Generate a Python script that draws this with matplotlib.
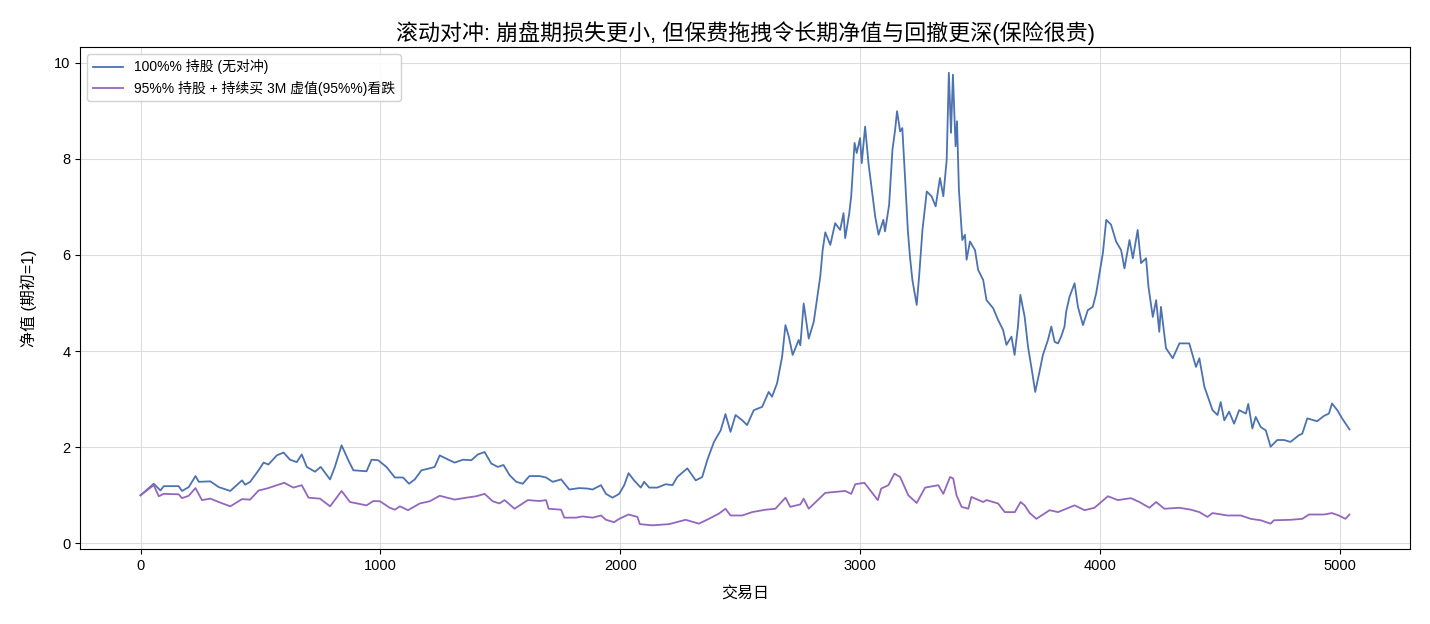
import matplotlib
matplotlib.use("Agg")
import matplotlib.pyplot as plt

plt.rcParams['font.family'] = ['Liberation Sans', 'Noto Sans CJK SC', 'DejaVu Sans']
plt.rcParams['axes.unicode_minus'] = False

# 100% 持股 (无对冲): 交易日, 净值
days_full = [0, 55, 83, 97, 159, 173, 201, 229, 243, 291, 326, 374, 423, 436, 457, 492, 513, 533,
             568, 596, 623, 651, 672, 693, 727, 751, 790, 810, 838, 866, 887, 942, 963, 990, 1025,
             1060, 1094, 1119, 1143, 1171, 1205, 1226, 1247, 1275, 1309, 1344, 1379, 1406, 1434,
             1462, 1489, 1513, 1538, 1566, 1593, 1621, 1663, 1690, 1718, 1753, 1787, 1829, 1863,
             1884, 1919, 1940, 1967, 1995, 2016, 2034, 2057, 2085, 2099, 2120, 2154, 2189, 2217,
             2237, 2279, 2314, 2341, 2362, 2390, 2418, 2438, 2459, 2480, 2508, 2528, 2556, 2591,
             2618, 2632, 2653, 2674, 2688, 2702, 2718, 2743, 2750, 2764, 2785, 2806, 2823, 2833,
             2843, 2854, 2875, 2895, 2916, 2930, 2937, 2954, 2962, 2976, 2985, 2999, 3006, 3020,
             3034, 3048, 3062, 3076, 3096, 3103, 3120, 3134, 3145, 3153, 3166, 3175, 3187, 3198,
             3207, 3217, 3235, 3245, 3259, 3277, 3297, 3314, 3332, 3346, 3360, 3369, 3378, 3386,
             3397, 3403, 3411, 3425, 3436, 3443, 3457, 3478, 3491, 3512, 3526, 3554, 3574, 3595,
             3609, 3630, 3643, 3657, 3667, 3685, 3699, 3716, 3729, 3748, 3761, 3782, 3796, 3810,
             3824, 3837, 3851, 3858, 3872, 3893, 3907, 3928, 3948, 3969, 3983, 3997, 4011, 4025,
             4045, 4066, 4087, 4101, 4122, 4136, 4156, 4170, 4191, 4201, 4219, 4233, 4246, 4253,
             4274, 4302, 4330, 4371, 4399, 4413, 4434, 4468, 4489, 4502, 4517, 4537, 4558, 4579,
             4607, 4617, 4634, 4648, 4669, 4690, 4710, 4738, 4766, 4793, 4828, 4842, 4863, 4904,
             4932, 4953, 4966, 4988, 5008, 5039]
nav_full = [1.00, 1.24, 1.10, 1.19, 1.19, 1.09, 1.17, 1.40, 1.28, 1.29, 1.17, 1.09, 1.31, 1.22,
            1.28, 1.52, 1.68, 1.64, 1.83, 1.89, 1.74, 1.69, 1.85, 1.59, 1.49, 1.59, 1.33, 1.59,
            2.04, 1.73, 1.52, 1.50, 1.74, 1.73, 1.59, 1.37, 1.37, 1.24, 1.33, 1.52, 1.56, 1.59,
            1.83, 1.76, 1.68, 1.74, 1.73, 1.85, 1.90, 1.66, 1.59, 1.63, 1.42, 1.28, 1.24, 1.40,
            1.40, 1.37, 1.28, 1.33, 1.12, 1.15, 1.14, 1.12, 1.21, 1.03, 0.95, 1.03, 1.21, 1.46,
            1.31, 1.16, 1.28, 1.16, 1.16, 1.23, 1.21, 1.38, 1.56, 1.31, 1.38, 1.73, 2.11, 2.35,
            2.69, 2.32, 2.67, 2.56, 2.46, 2.77, 2.84, 3.15, 3.05, 3.33, 3.88, 4.54, 4.30, 3.92,
            4.23, 4.12, 4.99, 4.26, 4.61, 5.20, 5.55, 6.10, 6.47, 6.21, 6.66, 6.52, 6.87, 6.35,
            6.87, 7.22, 8.33, 8.12, 8.43, 7.91, 8.67, 7.91, 7.35, 6.80, 6.42, 6.73, 6.49, 7.04,
            8.19, 8.60, 8.99, 8.57, 8.64, 7.56, 6.52, 5.96, 5.48, 4.96, 5.55, 6.52, 7.32, 7.22,
            7.01, 7.60, 7.22, 7.98, 9.79, 8.54, 9.75, 8.26, 8.78, 7.35, 6.31, 6.42, 5.90, 6.28,
            6.10, 5.69, 5.48, 5.06, 4.89, 4.65, 4.44, 4.13, 4.30, 3.92, 4.51, 5.17, 4.71, 4.09,
            3.57, 3.15, 3.60, 3.92, 4.23, 4.51, 4.19, 4.16, 4.30, 4.51, 4.82, 5.13, 5.41, 4.92,
            4.54, 4.85, 4.92, 5.20, 5.62, 6.04, 6.73, 6.63, 6.28, 6.10, 5.72, 6.31, 5.93, 6.52,
            5.83, 5.93, 5.34, 4.71, 5.06, 4.40, 4.92, 4.06, 3.85, 4.16, 4.16, 3.67, 3.85, 3.26,
            2.77, 2.67, 2.94, 2.56, 2.74, 2.49, 2.77, 2.70, 2.90, 2.39, 2.63, 2.42, 2.35, 2.01,
            2.15, 2.15, 2.11, 2.25, 2.28, 2.60, 2.54, 2.65, 2.70, 2.91, 2.77, 2.60, 2.37]

# 95% 持股 + 持续买 3M 虚值看跌
days_hedge = [0, 55, 76, 97, 159, 173, 201, 229, 256, 291, 326, 374, 423, 457, 492, 526, 568, 599,
              637, 672, 700, 748, 790, 838, 873, 942, 970, 998, 1039, 1060, 1081, 1115, 1164, 1205,
              1247, 1309, 1358, 1399, 1434, 1468, 1496, 1517, 1559, 1614, 1663, 1690, 1701, 1753,
              1766, 1815, 1842, 1884, 1919, 1940, 1974, 1995, 2034, 2071, 2081, 2134, 2203, 2272,
              2327, 2369, 2411, 2438, 2459, 2508, 2549, 2605, 2646, 2688, 2708, 2750, 2764, 2785,
              2854, 2895, 2937, 2962, 2979, 3017, 3073, 3087, 3117, 3142, 3166, 3200, 3235, 3270,
              3325, 3346, 3374, 3387, 3401, 3422, 3450, 3463, 3512, 3526, 3574, 3602, 3644, 3668,
              3685, 3706, 3734, 3789, 3824, 3858, 3893, 3935, 3976, 4032, 4073, 4128, 4163, 4205,
              4233, 4267, 4330, 4378, 4413, 4447, 4468, 4530, 4586, 4627, 4669, 4710, 4724, 4793,
              4842, 4870, 4932, 4966, 4994, 5022, 5039]
nav_hedge = [1.00, 1.21, 0.98, 1.03, 1.02, 0.94, 0.99, 1.15, 0.90, 0.93, 0.86, 0.77, 0.92, 0.91,
             1.10, 1.14, 1.21, 1.26, 1.16, 1.21, 0.95, 0.93, 0.77, 1.09, 0.86, 0.79, 0.88, 0.875,
             0.74, 0.70, 0.77, 0.69, 0.83, 0.875, 0.99, 0.91, 0.95, 0.98, 1.03, 0.875, 0.83, 0.90,
             0.72, 0.90, 0.88, 0.90, 0.72, 0.70, 0.535, 0.535, 0.56, 0.535, 0.58, 0.49, 0.44, 0.51,
             0.60, 0.55, 0.40, 0.375, 0.40, 0.49, 0.41, 0.51, 0.62, 0.72, 0.58, 0.58, 0.65, 0.70,
             0.72, 0.95, 0.76, 0.81, 0.93, 0.72, 1.05, 1.07, 1.09, 1.03, 1.23, 1.26, 0.90, 1.14,
             1.21, 1.45, 1.38, 1.00, 0.84, 1.16, 1.21, 1.03, 1.38, 1.35, 1.00, 0.76, 0.72, 0.965,
             0.86, 0.90, 0.83, 0.65, 0.65, 0.86, 0.79, 0.63, 0.51, 0.69, 0.65, 0.72, 0.79, 0.69,
             0.74, 0.98, 0.90, 0.94, 0.86, 0.74, 0.86, 0.72, 0.74, 0.70, 0.65, 0.55, 0.63, 0.58,
             0.58, 0.51, 0.48, 0.41, 0.48, 0.49, 0.51, 0.60, 0.60, 0.63, 0.58, 0.51, 0.60]

fig = plt.figure(figsize=(14.3, 6.24), dpi=100)
ax = fig.add_axes([0.056, 0.12, 0.93, 0.805])

ax.plot(days_full, nav_full, color='#4C72B0', lw=1.3, label='100%% 持股 (无对冲)')
ax.plot(days_hedge, nav_hedge, color='#9467BD', lw=1.3, label='95%% 持股 + 持续买 3M 虚值(95%%)看跌')

ax.set_ylim(-0.12, 10.33)
ax.grid(True, color='#dddddd', lw=0.8)
ax.set_axisbelow(True)
ax.set_title('滚动对冲: 崩盘期损失更小, 但保费拖拽令长期净值与回撤更深(保险很贵)', fontsize=15.8, pad=5)
ax.set_xlabel('交易日', fontsize=11.5, labelpad=9)
ax.set_ylabel('净值 (期初=1)', fontsize=11.5, labelpad=12)
ax.tick_params(labelsize=10.5)
ax.legend(loc='upper left', fontsize=10, framealpha=0.9, edgecolor='#cccccc',
          labelspacing=0.45, handlelength=2.2)

fig.savefig('out.png', dpi=100)
